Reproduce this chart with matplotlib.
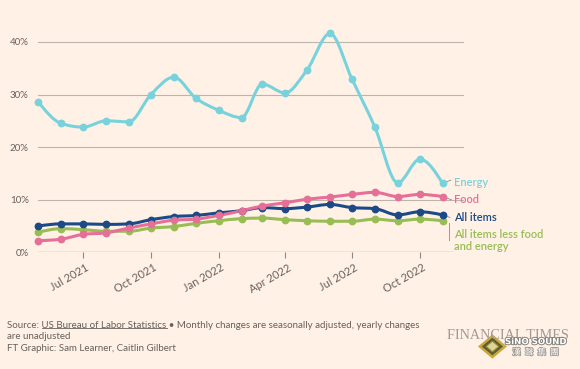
import numpy as np
import pandas as pd
import matplotlib
matplotlib.use('Agg')
import matplotlib.pyplot as plt
import matplotlib.dates as mdates
import matplotlib.patheffects as pe
from matplotlib.path import Path
from matplotlib.patches import PathPatch, Polygon
from matplotlib.transforms import offset_copy, ScaledTranslation

# Data: year-on-year CPI change (%), monthly
months = pd.date_range('2021-05-01', periods=19, freq='MS')
energy = [28.6, 24.5, 23.8, 25.0, 24.8, 30.0, 33.3, 29.3, 27.0, 25.6, 32.0, 30.3,
          34.7, 41.6, 32.9, 23.8, 13.2, 17.7, 13.1]
food = [2.2, 2.5, 3.4, 3.7, 4.6, 5.4, 6.1, 6.3, 7.0, 7.9, 8.8, 9.4,
        10.1, 10.5, 11.0, 11.4, 10.6, 11.0, 10.6]
all_items = [5.0, 5.4, 5.4, 5.3, 5.4, 6.2, 6.8, 7.0, 7.5, 7.9, 8.5, 8.3,
             8.6, 9.1, 8.5, 8.3, 7.1, 7.7, 7.1]
core = [3.8, 4.5, 4.3, 4.0, 4.0, 4.6, 4.9, 5.5, 6.0, 6.4, 6.5, 6.2,
        6.0, 5.9, 5.9, 6.3, 6.0, 6.3, 6.0]

series_names = ['Energy', 'Food', 'All items', 'All items less food\nand energy']
series_values = [energy, food, all_items, core]
series_colors = ['#78d2dc', '#e66f98', '#1c4a87', '#98bd55']

tick_dates = pd.to_datetime(['2021-07-01', '2021-10-01', '2022-01-01',
                             '2022-04-01', '2022-07-01', '2022-10-01'])
tick_labels = ['Jul 2021', 'Oct 2021', 'Jan 2022', 'Apr 2022', 'Jul 2022', 'Oct 2022']
y_ticks = [0, 10, 20, 30, 40]

BG = '#fff1e5'
GREY = '#66605c'
GRID = '#bdb4ad'

plt.rcParams['font.family'] = ['Lato', 'DejaVu Sans']


def monotone_path(x, y):
    # d3-style monotoneX curve as cubic bezier segments
    x = np.asarray(x, float)
    y = np.asarray(y, float)
    n = len(x)
    h = np.diff(x)
    s = np.diff(y) / h
    t = np.zeros(n)
    for i in range(1, n - 1):
        p = (s[i - 1] * h[i] + s[i] * h[i - 1]) / (h[i - 1] + h[i])
        t[i] = (np.sign(s[i - 1]) + np.sign(s[i])) * min(abs(s[i - 1]), abs(s[i]), 0.5 * abs(p))
    t[0] = (3 * s[0] - t[1]) / 2
    t[-1] = (3 * s[-1] - t[-2]) / 2
    verts = [(x[0], y[0])]
    codes = [Path.MOVETO]
    for i in range(n - 1):
        dx = h[i] / 3
        verts += [(x[i] + dx, y[i] + dx * t[i]), (x[i + 1] - dx, y[i + 1] - dx * t[i + 1]),
                  (x[i + 1], y[i + 1])]
        codes += [Path.CURVE4] * 3
    return Path(verts, codes)


fig = plt.figure(figsize=(5.8, 3.69), dpi=100, facecolor=BG)
ax = fig.add_axes([0.066, 0.3163, 0.734, 0.6414])
ax.set_facecolor(BG)

xnum = mdates.date2num(months)

for vals, col in zip(series_values[::-1], series_colors[::-1]):
    path = monotone_path(xnum, vals)
    ax.add_patch(PathPatch(path, fill=False, edgecolor=col, lw=2.2, zorder=3,
                           capstyle='round', joinstyle='round'))
    ax.plot(months, vals, 'o', color=col, ms=4.6, zorder=4, clip_on=False)

ax.set_xlim(mdates.date2num(pd.Timestamp('2021-05-01')),
            mdates.date2num(pd.Timestamp('2022-11-30')))
ax.set_ylim(0, 45)

for v in y_ticks[1:]:
    ax.axhline(v, color=GRID, lw=0.8, zorder=1)
ax.axhline(0, xmax=0.974, color='#8f8782', lw=0.9, zorder=2)

for sp in ax.spines.values():
    sp.set_visible(False)

ax.set_yticks(y_ticks)
ax.set_yticklabels([f'{v}%' for v in y_ticks])
ax.tick_params(axis='y', length=0, pad=7, labelsize=7, labelcolor=GREY)

ax.set_xticks(tick_dates)
ax.set_xticklabels(tick_labels)
ax.tick_params(axis='x', length=4.5, width=0.8, color='#8f8782', pad=2.5,
               labelsize=8, labelcolor=GREY)
for lab in ax.get_xticklabels():
    lab.set_rotation(30)
    lab.set_ha('right')
    lab.set_va('top')
    lab.set_rotation_mode('anchor')
    lab.set_transform(lab.get_transform() + ScaledTranslation(1.5 / 72, 0, fig.dpi_scale_trans))

# Line labels at the right end
label_y = [13.2, 10.1, 6.7, 2.2]
label_off = offset_copy(ax.transData, fig=fig, x=8.5, y=0, units='points')
last_x = months[-1]
for name, vals, col, ly in zip(series_names, series_values, series_colors, label_y):
    ax.text(last_x, ly, name, transform=label_off, color=col, fontsize=8,
            fontweight='semibold', va='center', ha='left', linespacing=1.05)

# small connectors from last point to label
conn_ends = [(6, 2.4), (6.5, -2.4), (5.2, -1.8)]
for vals, (ex, ey) in zip(series_values[:3], conn_ends):
    ax.annotate('', xy=(last_x, vals[-1]), xytext=(ex, ey), textcoords='offset points',
                arrowprops=dict(arrowstyle='-', color='#8f8782', lw=0.6,
                                shrinkA=0, shrinkB=3.4), annotation_clip=False)
c_off = offset_copy(ax.transData, fig=fig, x=4.5, y=0, units='points')
ax.plot([last_x, last_x], [core[-1] - 0.4, 2.3], transform=c_off, color='#a09891', lw=0.7,
        clip_on=False)

# Footnote
FS = 7
top = 0.131
fig.text(0.0125, top, 'Source: US Bureau of Labor Statistics \u2022 Monthly changes are '
         'seasonally adjusted, yearly changes\nare unadjusted\n'
         'FT Graphic: Sam Learner, Caitlin Gilbert',
         fontsize=FS, color=GREY, va='top', linespacing=1.36)

# underline the source link
fig.canvas.draw()
r = fig.canvas.get_renderer()
t1 = fig.text(0.0125, top, 'Source: ', fontsize=FS, va='top', alpha=0)
t2 = fig.text(0.0125, top, 'Source: US Bureau of Labor Statistics', fontsize=FS, va='top',
              alpha=0)
b1 = t1.get_window_extent(r).transformed(fig.transFigure.inverted())
b2 = t2.get_window_extent(r).transformed(fig.transFigure.inverted())
uy = b2.y0 + 0.005
fig.add_artist(plt.Line2D([b1.x1, b2.x1], [uy, uy], transform=fig.transFigure,
                          color=GREY, lw=0.6))

fig.text(0.771, 0.0813, 'FINANCIAL TIMES', family='Liberation Serif', fontsize=10.2,
         color='#a39a93')

# watermark
cx, cy, hw, hh = 0.849, 0.061, 0.0216, 0.0285
d = Polygon([[cx - hw, cy], [cx, cy - hh], [cx + hw, cy], [cx, cy + hh]], closed=True,
            transform=fig.transFigure, facecolor='#5e5d33', edgecolor='#caa83a', lw=1.8)
fig.patches.append(d)
d2 = Polygon([[cx - hw * 0.5, cy], [cx, cy - hh * 0.5], [cx + hw * 0.5, cy], [cx, cy + hh * 0.5]],
             closed=True, transform=fig.transFigure, facecolor='#dcd49a', edgecolor='#9e9034',
             lw=0.8)
fig.patches.append(d2)
outline = [pe.withStroke(linewidth=1.4, foreground='#858079')]
fig.text(0.9235, 0.074, 'SiNO SOUND', fontsize=6.2, fontweight='bold', color='white',
         family='DejaVu Sans', ha='center', va='center', path_effects=outline)
fig.text(0.9235, 0.045, '漢  聲  集  團', fontsize=6.3, color='white',
         family=['Noto Sans CJK TC', 'DejaVu Sans'], ha='center', va='center',
         path_effects=[pe.withStroke(linewidth=1.0, foreground='#9a948d')])

fig.savefig('out.png', dpi=100, facecolor=BG)
